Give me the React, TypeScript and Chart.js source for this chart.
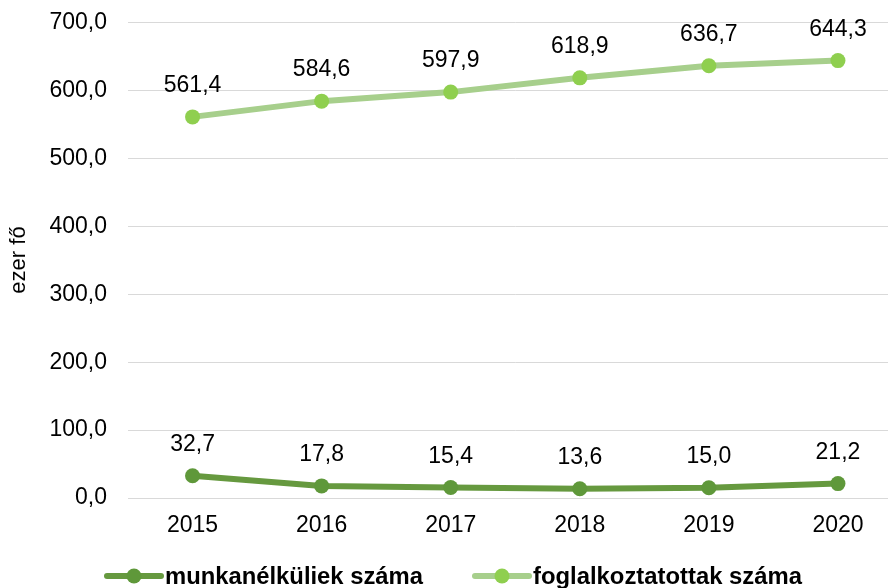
import React, { useEffect, useRef } from "react";
import { Chart, registerables } from "chart.js";

Chart.register(...registerables);

const years = ["2015", "2016", "2017", "2018", "2019", "2020"];
const unemployed = [32.7, 17.8, 15.4, 13.6, 15.0, 21.2];
const employed = [561.4, 584.6, 597.9, 618.9, 636.7, 644.3];
const seriesNames = ["munkanélküliek száma", "foglalkoztatottak száma"];
const lineColors = ["#66993f", "#a7cf8c"];
const pointColors = ["#5f983a", "#8fcf4f"];
const FONT = "'Liberation Sans', Arial, sans-serif";
const SHIFT = 12;

const fmt = (v: number) => v.toFixed(1).replace(".", ",");

const overlay = {
  id: "overlay",
  afterDatasetsDraw(chart: any) {
    const ctx = chart.ctx;
    ctx.save();
    ctx.fillStyle = "#000";
    ctx.font = `23px ${FONT}`;
    ctx.textAlign = "center";
    ctx.textBaseline = "middle";
    chart.data.datasets.forEach((ds: any, i: number) => {
      const meta = chart.getDatasetMeta(i);
      meta.data.forEach((pt: any, j: number) => {
        ctx.fillText(fmt(ds.data[j]), pt.x, pt.y - 31);
      });
    });
    // y axis title
    ctx.save();
    ctx.translate(19, 260 + SHIFT);
    ctx.rotate(-Math.PI / 2);
    ctx.font = `22px ${FONT}`;
    ctx.fillText("ezer fő", 0, 0);
    ctx.restore();
    // legend
    const ly = 576 + SHIFT;
    const entries = [
      { x: 105, i: 0, w: 258 },
      { x: 473, i: 1, w: 269 },
    ];
    ctx.font = `bold 23px ${FONT}`;
    ctx.textAlign = "left";
    entries.forEach((e) => {
      ctx.strokeStyle = lineColors[e.i];
      ctx.lineWidth = 6;
      ctx.lineCap = "round";
      ctx.beginPath();
      ctx.moveTo(e.x + 2, ly);
      ctx.lineTo(e.x + 56, ly);
      ctx.stroke();
      ctx.fillStyle = pointColors[e.i];
      ctx.beginPath();
      ctx.arc(e.x + 29, ly, 7.5, 0, Math.PI * 2);
      ctx.fill();
      ctx.fillStyle = "#000";
      const m = ctx.measureText(seriesNames[e.i]).width;
      ctx.save();
      ctx.translate(e.x + 60, ly + 2);
      ctx.scale(e.w / m, 1);
      ctx.fillText(seriesNames[e.i], 0, 0);
      ctx.restore();
    });
    ctx.restore();
  },
};

export default function App() {
  const ref = useRef<HTMLCanvasElement>(null);
  useEffect(() => {
    if (!ref.current) return;
    const chart = new Chart(ref.current, {
      type: "line",
      data: {
        labels: years,
        datasets: [
          {
            label: seriesNames[0],
            data: unemployed,
            borderColor: lineColors[0],
            backgroundColor: pointColors[0],
            pointBackgroundColor: pointColors[0],
            pointBorderWidth: 0,
            pointRadius: 7.5,
            borderWidth: 6,
          },
          {
            label: seriesNames[1],
            data: employed,
            borderColor: lineColors[1],
            backgroundColor: pointColors[1],
            pointBackgroundColor: pointColors[1],
            pointBorderWidth: 0,
            pointRadius: 7.5,
            borderWidth: 6,
          },
        ],
      },
      options: {
        animation: false,
        responsive: false,
        layout: { padding: { top: 12, left: 0, right: 0, bottom: 0 } },
        plugins: { legend: { display: false }, tooltip: { enabled: false } },
        scales: {
          x: {
            offset: true,
            grid: { display: false, drawTicks: false },
            border: { color: "#d9d9d9", width: 1 },
            ticks: { color: "#000", font: { family: FONT, size: 23 }, padding: 14 },
            afterFit: (s: any) => {
              s.height = 90;
            },
          },
          y: {
            min: 0,
            max: 700,
            grid: { color: "#d9d9d9", lineWidth: 1, drawTicks: false },
            border: { display: false },
            ticks: {
              stepSize: 100,
              color: "#000",
              font: { family: FONT, size: 23 },
              padding: 21,
              callback: (v: any) => fmt(Number(v)),
            },
            afterFit: (s: any) => {
              s.width = 128;
            },
          },
        },
      },
      plugins: [overlay],
    });
    return () => chart.destroy();
  }, []);
  return (
    <div style={{ position: "fixed", left: 0, top: 0, width: 888, height: 588, background: "#fff", overflow: "hidden" }}>
      <canvas
        ref={ref}
        width={910}
        height={600}
        style={{ position: "absolute", left: 0, top: -SHIFT, width: 910, height: 600 }}
      />
    </div>
  );
}
